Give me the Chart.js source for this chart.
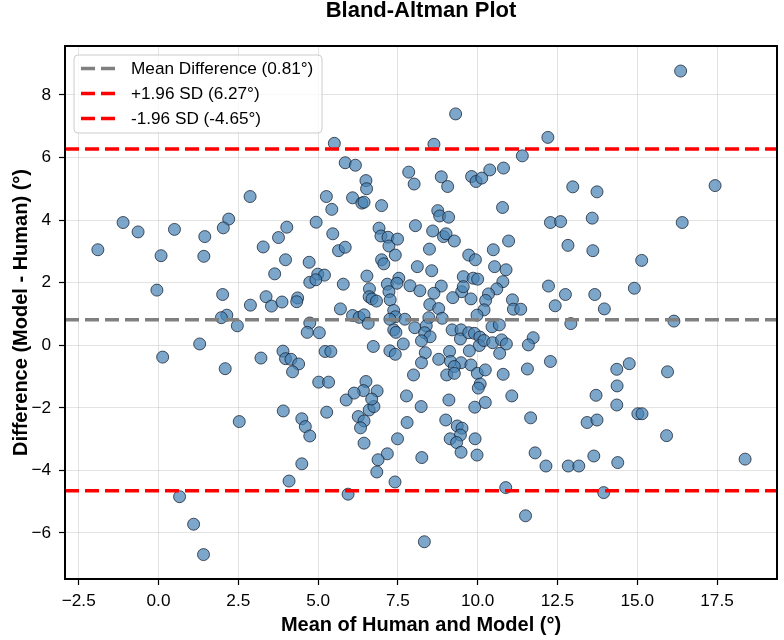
<!DOCTYPE html>
<html>
<head>
<meta charset="utf-8">
<title>Bland-Altman Plot</title>
<script src="https://cdn.jsdelivr.net/npm/chart.js@4.4.1/dist/chart.umd.min.js"></script>
<style>
  html, body { margin: 0; padding: 0; background: #fff; }
  canvas { display: block; }
</style>
</head>
<body>
<canvas id="baChart" width="784" height="640"></canvas>
<script>
// mean of human and model (x) / difference model - human (y), degrees
const meanValues = [
  2.87, -1.11, -0.64, 0.50, 2.20, 2.03, 4.02, 1.45, -1.90, 0.08,
  1.42, 3.28, 3.76, 3.98, 3.64, 4.72, 4.74, -0.05, 2.01, 2.88,
  3.37, 3.54, 3.87, 4.36, 4.33, 2.14, 1.97, 2.47, 4.74, 4.66,
  1.29, 0.13, 2.09, 3.21, 3.90, 3.98, 4.15, 4.39, 4.20, 3.91,
  2.53, 4.49, 4.60, 4.74, 4.49, 4.09, 0.66, 1.10, 1.41, 5.27,
  5.88, 6.26, 6.44, 6.33, 6.60, 6.75, 6.44, 7.49, 7.79, 7.17,
  6.88, 6.84, 7.41, 5.94, 8.25, 8.33, 8.23, 9.00, 9.36, 9.51,
  9.46, 9.14, 9.34, 9.48, 9.92, 9.98, 9.91, 10.24, 10.88, 11.50,
  11.66, 11.80, 12.14, 12.84, 13.17, 13.64, 13.43, 13.74, 14.36, 14.39,
  13.95, 15.02, 15.15, 15.92, 18.38, 16.36, 12.20, 12.98, 13.74, 17.44,
  13.59, 12.28, 12.60, 16.41, 12.83, 13.61, 15.14, 12.22, 12.75, 13.67,
  14.91, 12.43, 13.97, 12.92, 16.15, 12.28, 14.75, 14.36, 15.95, 14.37,
  13.71, 5.51, 9.31, 8.63, 11.40, 5.85, 6.17, 7.84, 6.50, 6.52,
  8.01, 8.86, 9.06, 9.81, 9.95, 10.13, 10.38, 10.81, 10.78, 5.26,
  5.43, 6.08, 6.37, 6.44, 6.99, 4.94, 6.91, 8.05, 8.75, 8.81,
  9.09, 5.46, 5.64, 5.85, 6.97, 7.19, 7.22, 7.49, 7.42, 8.59,
  8.93, 9.01, 9.27, 8.49, 9.72, 9.93, 10.49, 10.97, 4.99, 5.20,
  4.93, 5.79, 6.99, 7.06, 8.11, 8.56, 6.53, 7.53, 7.17, 7.47,
  7.88, 8.19, 8.86, 9.55, 9.86, 10.00, 10.53, 10.89, 10.79, 10.60,
  10.34, 10.25, 10.20, 9.98, 9.50, 9.55, 9.79, 9.22, 8.63, 8.50,
  8.78, 8.89, 8.47, 6.61, 6.60, 6.69, 6.83, 7.22, 7.26, 5.70,
  6.08, 6.29, 6.44, 6.57, 7.37, 7.42, 7.72, 7.25, 7.37, 7.44,
  8.03, 8.39, 8.34, 8.51, 8.24, 5.04, 9.20, 9.48, 9.46, 9.72,
  9.90, 10.07, 10.05, 10.20, 10.45, 10.68, 10.47, 10.75, 10.90, 10.69,
  11.09, 11.12, 11.35, 11.74, 11.59, 6.73, 7.25, 7.42, 7.67, 5.22,
  5.40, 8.36, 8.24, 8.78, 9.12, 9.15, 9.74, 9.48, 9.27, 9.79,
  9.03, 9.27, 9.99, 10.24, 10.80, 11.56, 7.99, 5.02, 5.33, 6.50,
  6.42, 6.13, 6.85, 6.68, 7.77, 9.10, 10.08, 10.02, 11.07
];
const diffValues = [
  4.75, 3.92, 3.62, 3.70, 4.03, 3.75, 3.77, 3.47, 3.05, 2.86,
  2.84, 3.14, 3.44, 2.73, 2.28, 2.65, 2.01, 1.76, 1.62, 1.28,
  1.55, 1.25, 1.38, 1.51, 1.39, 0.96, 0.88, 0.62, 0.71, 0.41,
  0.04, -0.38, -0.75, -0.41, -0.19, -0.43, -0.45, -0.60, -0.85, -2.10,
  -2.44, -2.35, -2.60, -2.90, -3.79, -4.34, -4.84, -5.72, -6.69, -2.14,
  -1.75, -2.28, -2.42, -2.64, -2.07, -1.96, -3.13, -2.99, -2.47, -3.47,
  -3.66, -4.05, -4.37, -4.76, -3.59, -6.28, -1.96, -2.39, -2.58, -2.65,
  -2.87, -2.99, -3.11, -3.42, -2.99, -3.51, -1.98, -1.83, -4.55, -5.45,
  -2.32, -3.44, -3.86, -3.86, -3.86, -3.54, -2.47, -2.39, -1.91, -3.75,
  -4.71, -2.19, -2.19, -2.89, -3.64, 8.76, 6.64, 5.06, 4.90, 5.10,
  4.06, 3.92, 3.95, 3.92, 3.19, 3.02, 2.71, 1.89, 1.62, 1.62,
  1.82, 1.26, 1.16, 0.69, 0.77, -0.52, -0.59, -0.77, -0.85, -1.30,
  -1.60, 6.45, 7.39, 6.42, 6.05, 5.83, 5.75, 5.53, 5.26, 5.00,
  5.15, 5.38, 5.07, 5.39, 5.23, 5.34, 5.60, 5.66, 4.40, 4.75,
  4.34, 4.71, 4.54, 4.57, 4.46, 3.93, 3.74, 3.82, 4.30, 4.13,
  4.09, 3.56, 3.02, 3.13, 3.49, 3.45, 3.17, 3.39, 2.88, 3.65,
  3.47, 3.56, 3.33, 3.07, 2.88, 2.73, 3.05, 3.33, 2.27, 2.24,
  2.09, 1.95, 2.73, 2.60, 2.51, 2.38, 2.21, 2.14, 1.95, 1.98,
  1.90, 1.74, 1.89, 2.19, 2.14, 2.11, 2.51, 2.41, 2.03, 1.80,
  1.64, 1.43, 1.13, 0.96, 1.71, 1.87, 1.48, 1.52, 1.66, 1.30,
  1.17, 0.86, 0.88, 1.80, 1.55, 1.48, 1.41, 1.71, 1.45, 1.16,
  0.95, 0.89, 0.97, 0.70, 1.11, 0.91, 0.83, 0.83, 0.49, 0.41,
  0.56, 0.62, 0.40, 0.27, 0.14, 0.40, 0.49, 0.49, 0.20, 0.40,
  0.38, 0.26, -0.01, 0.15, 0.59, 0.65, 0.08, 0.17, 0.04, -0.26,
  1.45, 1.15, 1.15, 0.24, 0.01, -0.04, -0.18, -0.29, 0.04, -0.20,
  -0.20, -0.24, -0.56, -0.45, -0.20, -0.52, -0.18, -0.56, -0.68, -0.63,
  -0.95, -0.90, -0.90, -0.79, -0.93, -0.76, -0.95, -1.18, -1.18, -1.16,
  -1.45, -1.53, -1.46, -1.72, -1.62, -1.75, -1.24, -1.37, -1.62
];

const meanDiff = 0.81;
const upperLoA = 6.27;
const lowerLoA = -4.65;

const xLimits = [-2.93, 19.38];
const yLimits = [-7.47, 9.56];
const xTicks = [-2.5, 0, 2.5, 5, 7.5, 10, 12.5, 15, 17.5];
const yTicks = [-6, -4, -2, 0, 2, 4, 6, 8];

const FONT = '"Liberation Sans", Arial, Helvetica, sans-serif';
const minus = s => String(s).replace('-', '\u2212');

const points = meanValues.map((m, i) => ({ x: m, y: diffValues[i] }));
const hLine = y => [{ x: xLimits[0], y: y }, { x: xLimits[1], y: y }];

// frame around the plot area (matplotlib spines)
const framePlugin = {
  id: 'frame',
  afterDatasetsDraw(chart) {
    const { ctx, chartArea: a } = chart;
    ctx.save();
    ctx.strokeStyle = '#000';
    ctx.lineWidth = 2;
    ctx.strokeRect(a.left, a.top, a.right - a.left, a.bottom - a.top);
    ctx.restore();
  }
};

// legend inside the upper-left corner, built from the reference-line datasets
const insideLegend = {
  id: 'insideLegend',
  afterDraw(chart) {
    const { ctx, chartArea } = chart;
    const items = chart.data.datasets.filter(d => d.refLine);
    const x0 = chartArea.left + 9, y0 = chartArea.top + 9, w = 248, h = 78;
    ctx.save();
    ctx.beginPath();
    ctx.roundRect(x0, y0, w, h, 4);
    ctx.fillStyle = 'rgba(255,255,255,0.8)';
    ctx.fill();
    ctx.strokeStyle = '#cccccc';
    ctx.lineWidth = 1;
    ctx.stroke();
    ctx.font = '17.2px ' + FONT;
    ctx.textBaseline = 'middle';
    items.forEach((d, i) => {
      const cy = y0 + 13.5 + i * 25;
      ctx.beginPath();
      ctx.setLineDash(d.borderDash);
      ctx.strokeStyle = d.borderColor;
      ctx.lineWidth = d.borderWidth;
      ctx.moveTo(x0 + 7, cy);
      ctx.lineTo(x0 + 43, cy);
      ctx.stroke();
      ctx.setLineDash([]);
      ctx.fillStyle = '#000';
      ctx.fillText(d.label, x0 + 57, cy + 1);
    });
    ctx.restore();
  }
};

const refLine = (label, y, color) => ({
  label: label,
  refLine: true,
  data: hLine(y),
  showLine: true,
  borderColor: color,
  borderWidth: 3.5,
  borderDash: [14, 6],
  pointRadius: 0,
  order: 0
});

const gridStyle = {
  color: 'rgba(176,176,176,0.35)',
  lineWidth: 1,
  tickColor: '#000',
  tickLength: 6,
  tickWidth: 1.2
};

new Chart(document.getElementById('baChart').getContext('2d'), {
  type: 'scatter',
  data: {
    datasets: [
      refLine('Mean Difference (' + meanDiff.toFixed(2) + '°)', meanDiff, '#808080'),
      refLine('+1.96 SD (' + upperLoA.toFixed(2) + '°)', upperLoA, '#ff0000'),
      refLine('-1.96 SD (' + lowerLoA.toFixed(2) + '°)', lowerLoA, '#ff0000'),
      {
        label: 'points',
        data: points,
        backgroundColor: 'rgba(70,130,180,0.7)',
        borderColor: 'rgba(20,30,45,0.75)',
        borderWidth: 1,
        pointRadius: 6,
        order: 1
      }
    ]
  },
  options: {
    responsive: false,
    animation: false,
    devicePixelRatio: 1,
    events: [],
    layout: { padding: { top: 0, right: 3, bottom: 0, left: 0 } },
    scales: {
      x: {
        type: 'linear',
        min: xLimits[0],
        max: xLimits[1],
        afterBuildTicks: axis => { axis.ticks = xTicks.map(v => ({ value: v })); },
        afterFit: axis => { axis.height = 61; },
        border: { display: false },
        grid: gridStyle,
        ticks: {
          color: '#000',
          font: { family: FONT, size: 17.2 },
          padding: 5.5,
          maxRotation: 0,
          autoSkip: false,
          callback: v => minus(Number(v).toFixed(1))
        },
        title: {
          display: true,
          text: 'Mean of Human and Model (°)',
          color: '#000',
          font: { family: FONT, size: 20, weight: 'bold' },
          padding: { top: 0, bottom: 3 }
        }
      },
      // top axis only carries the title, centred over the plot area
      xTop: {
        type: 'linear',
        position: 'top',
        min: xLimits[0],
        max: xLimits[1],
        afterFit: axis => { axis.height = 46; },
        border: { display: false },
        grid: { display: false, drawTicks: false },
        ticks: { display: false },
        title: {
          display: true,
          text: 'Bland-Altman Plot',
          color: '#000',
          font: { family: FONT, size: 22, weight: 'bold', lineHeight: 1 },
          padding: { top: 0, bottom: 0 }
        }
      },
      y: {
        type: 'linear',
        min: yLimits[0],
        max: yLimits[1],
        afterBuildTicks: axis => { axis.ticks = yTicks.map(v => ({ value: v })); },
        afterFit: axis => { axis.width = 65; },
        border: { display: false },
        grid: gridStyle,
        ticks: {
          color: '#000',
          font: { family: FONT, size: 17.2 },
          padding: 8,
          autoSkip: false,
          callback: v => minus(v)
        },
        title: {
          display: true,
          text: 'Difference (Model - Human) (°)',
          color: '#000',
          font: { family: FONT, size: 20, weight: 'bold' },
          padding: { top: 9, bottom: 0 }
        }
      }
    },
    plugins: {
      legend: { display: false },
      tooltip: { enabled: false }
    }
  },
  plugins: [framePlugin, insideLegend]
});
</script>
</body>
</html>
